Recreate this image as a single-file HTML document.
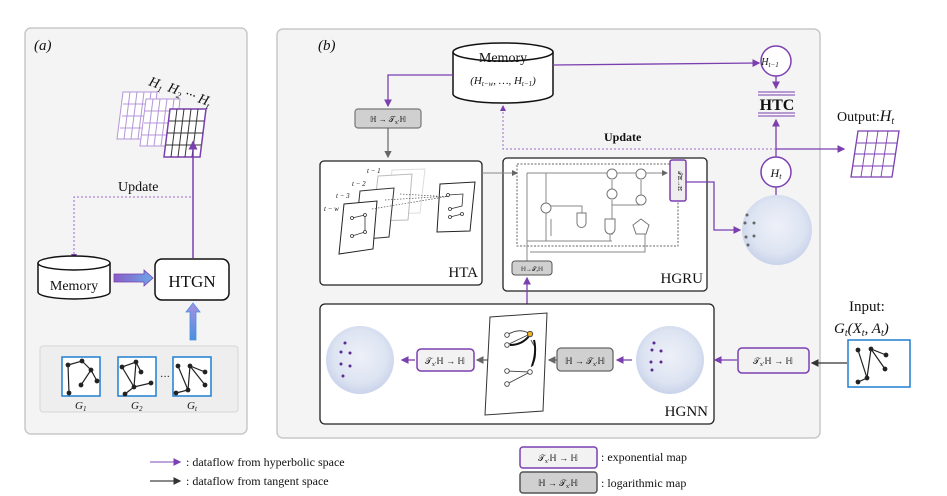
<!DOCTYPE html>
<html><head><meta charset="utf-8"><style>
html,body{margin:0;padding:0;background:#fff;width:947px;height:496px;overflow:hidden}
svg{display:block}
text{font-family:"Liberation Serif",serif;fill:#111}
.it{font-style:italic}
</style></head><body>
<svg width="947" height="496" viewBox="0 0 947 496" xmlns="http://www.w3.org/2000/svg">
<defs>
<marker id="ap" markerWidth="6" markerHeight="6" refX="5" refY="3" orient="auto"><path d="M0,0 L6,3 L0,6 z" fill="#7b3fb0"/></marker>
<marker id="ag" markerWidth="6" markerHeight="6" refX="5" refY="3" orient="auto"><path d="M0,0 L6,3 L0,6 z" fill="#666"/></marker>
<marker id="ak" markerWidth="6" markerHeight="6" refX="5" refY="3" orient="auto"><path d="M0,0 L6,3 L0,6 z" fill="#333"/></marker>
<radialGradient id="sph" cx="50%" cy="45%" r="55%"><stop offset="0" stop-color="#eef0f8"/><stop offset="0.7" stop-color="#dde4f2"/><stop offset="1" stop-color="#c9d3ea"/></radialGradient>
<linearGradient id="hg" x1="0" x2="1"><stop offset="0" stop-color="#8a5cc8"/><stop offset="1" stop-color="#6aa8e8"/></linearGradient>
<linearGradient id="vg" x1="0" y1="1" x2="0" y2="0"><stop offset="0" stop-color="#4a90e0"/><stop offset="1" stop-color="#a890e0"/></linearGradient>
<g id="grid">
<path d="M0,0 L30,0 L24,42 L-6,42 z" fill="#fff"/>
</g>
</defs>

<!-- Panel a -->
<rect x="25" y="28" width="222" height="406" rx="6" fill="#f4f4f4" stroke="#c8c8c8" stroke-width="1.5"/>
<text x="34" y="50" font-size="15" class="it">(a)</text>
<!-- grids -->
<g stroke="#b596d8" stroke-width="1" fill="#fff">
<path d="M123,92 L157,92 L152,139 L117,139 z"/>
<path d="M123,104 H155 M122,116 H154 M120,128 H153 M130,92 L124,139 M137,92 L131,139 M144,92 L138,139 M151,92 L145,139"/>
<path d="M146,99 L180,99 L175,146 L140,146 z"/>
<path d="M145,111 H178 M144,123 H177 M142,135 H176 M153,99 L147,146 M160,99 L154,146 M167,99 L161,146 M174,99 L168,146"/>
</g>
<g stroke="#333" stroke-width="1" fill="#fff">
<path d="M170,109 L206,109 L200,157 L164,157 z" stroke="#7b3fb0" stroke-width="1.5"/>
<path d="M169,121 H204 M167,133 H203 M166,145 H201 M177,109 L171,157 M184,109 L178,157 M191,109 L185,157 M198,109 L192,157"/>
</g>
<text x="148" y="85" font-size="14" class="it" transform="rotate(20 148 85)">H<tspan font-size="9" dy="3">1</tspan></text>
<text x="167" y="91" font-size="14" class="it" transform="rotate(20 167 91)">H<tspan font-size="9" dy="3">2</tspan><tspan dy="-3"> ··· H</tspan><tspan font-size="9" dy="3">t</tspan></text>
<text x="118" y="191" font-size="14">Update</text>
<path d="M191,197 H74 V259" fill="none" stroke="#9a6cc8" stroke-width="1" stroke-dasharray="2,2" marker-end="url(#ap)"/>
<line x1="193" y1="258" x2="193" y2="142" stroke="#7b3fb0" stroke-width="1.5" marker-end="url(#ap)"/>
<!-- memory a -->
<path d="M38,263 V292 A36,7 0 0 0 110,292 V263" fill="#fff" stroke="#111" stroke-width="1.5"/>
<ellipse cx="74" cy="263" rx="36" ry="7" fill="#fff" stroke="#111" stroke-width="1.5"/>
<text x="74" y="290" font-size="14" text-anchor="middle">Memory</text>
<path d="M114,274 H144 V270 L153,278 L144,286 V282 H114 z" fill="url(#hg)" stroke="#7b3fb0" stroke-width="0.8"/>
<rect x="155" y="259" width="74" height="41" rx="7" fill="#fff" stroke="#111" stroke-width="1.5"/>
<text x="192" y="287" font-size="17" text-anchor="middle">HTGN</text>
<path d="M190,340 V312 H186 L193,303 L200,312 H196 V340 z" fill="url(#vg)" stroke="#4a90e0" stroke-width="0.8"/>
<rect x="40" y="346" width="198" height="66" rx="3" fill="#eeeeee" stroke="#d6d6d6"/>
<g stroke="#1f7fd0" stroke-width="1.5" fill="#fff">
<rect x="62" y="357" width="38" height="39"/><rect x="118" y="357" width="38" height="39"/><rect x="173" y="357" width="38" height="39"/>
</g>
<g stroke="#222" stroke-width="1.2" fill="#222">
<path d="M68,365 L82,361 L91,370 L97,381 M91,370 L81,385 M68,365 L69,393" fill="none"/>
<circle cx="68" cy="365" r="1.8"/><circle cx="82" cy="361" r="1.8"/><circle cx="91" cy="370" r="1.8"/><circle cx="97" cy="381" r="1.8"/><circle cx="81" cy="385" r="1.8"/><circle cx="69" cy="393" r="1.8"/>
<path d="M122,367 L136,362 L141,372 M136,362 L134,387 L151,383 M122,367 L134,387 L125,394" fill="none"/>
<circle cx="122" cy="367" r="1.8"/><circle cx="136" cy="362" r="1.8"/><circle cx="141" cy="372" r="1.8"/><circle cx="134" cy="387" r="1.8"/><circle cx="151" cy="383" r="1.8"/><circle cx="125" cy="394" r="1.8"/>
<path d="M178,366 L188,390 L176,393 M188,390 L190,366 L205,372 M190,366 L205,385" fill="none"/>
<circle cx="178" cy="366" r="1.8"/><circle cx="188" cy="390" r="1.8"/><circle cx="176" cy="393" r="1.8"/><circle cx="190" cy="366" r="1.8"/><circle cx="205" cy="372" r="1.8"/><circle cx="205" cy="385" r="1.8"/>
</g>
<text x="160" y="380" font-size="10">···</text>
<text x="75" y="409" font-size="11" class="it">G<tspan font-size="7" dy="2">1</tspan></text>
<text x="131" y="409" font-size="11" class="it">G<tspan font-size="7" dy="2">2</tspan></text>
<text x="187" y="409" font-size="11" class="it">G<tspan font-size="7" dy="2">t</tspan></text>

<!-- Panel b -->
<rect x="277" y="29" width="543" height="409" rx="6" fill="#f4f4f4" stroke="#c8c8c8" stroke-width="1.5"/>
<text x="318" y="50" font-size="15" class="it">(b)</text>
<!-- memory b -->
<path d="M453,52 V94 A50,9 0 0 0 553,94 V52" fill="#fff" stroke="#111" stroke-width="1.5"/>
<ellipse cx="503" cy="52" rx="50" ry="9" fill="#fff" stroke="#111" stroke-width="1.5"/>
<text x="503" y="62" font-size="14" text-anchor="middle">Memory</text>
<text x="503" y="84" font-size="11" text-anchor="middle" class="it">(H<tspan font-size="7" dy="2">t−w</tspan><tspan dy="-2">, …, H</tspan><tspan font-size="7" dy="2">t−1</tspan><tspan dy="-2">)</tspan></text>
<path d="M453,75 H388 V106" fill="none" stroke="#7b3fb0" stroke-width="1.3" marker-end="url(#ap)"/>
<rect x="355" y="109" width="66" height="19" rx="3" fill="#d0d0d0" stroke="#777" stroke-width="1.2"/>
<text x="388" y="122" font-size="8" text-anchor="middle">ℍ → 𝒯<tspan font-size="6" dy="2">x′</tspan><tspan dy="-2">ℍ</tspan></text>
<line x1="388" y1="128" x2="388" y2="157" stroke="#666" stroke-width="1.2" marker-end="url(#ag)"/>
<line x1="553" y1="65" x2="759" y2="63" stroke="#7b3fb0" stroke-width="1.3" marker-end="url(#ap)"/>
<circle cx="776" cy="61" r="15" fill="#fff" stroke="#7b3fb0" stroke-width="1.5"/>
<text x="770" y="65" font-size="10" class="it" text-anchor="middle">H<tspan font-size="7" dy="2">t−1</tspan></text>
<line x1="776" y1="76" x2="776" y2="88" stroke="#7b3fb0" stroke-width="1.3" marker-end="url(#ap)"/>
<g stroke="#7b3fb0" stroke-width="1"><line x1="758" y1="92" x2="795" y2="92"/><line x1="758" y1="95" x2="795" y2="95"/><line x1="758" y1="113" x2="795" y2="113"/><line x1="758" y1="116" x2="795" y2="116"/></g>
<text x="777" y="110" font-size="16" font-weight="bold" text-anchor="middle">HTC</text>
<line x1="776" y1="157" x2="776" y2="120" stroke="#7b3fb0" stroke-width="1.3" marker-end="url(#ap)"/>
<circle cx="776" cy="172" r="15" fill="#fff" stroke="#7b3fb0" stroke-width="1.5"/>
<text x="776" y="177" font-size="12" class="it" text-anchor="middle">H<tspan font-size="8" dy="2">t</tspan></text>
<line x1="776" y1="187" x2="776" y2="197" stroke="#7b3fb0" stroke-width="1.3"/>
<path d="M776,149 H503 V106" fill="none" stroke="#9a6cc8" stroke-width="1" stroke-dasharray="2,2" marker-end="url(#ap)"/>
<line x1="776" y1="149" x2="844" y2="149" stroke="#7b3fb0" stroke-width="1.3" marker-end="url(#ap)"/>
<text x="604" y="141" font-size="12" font-weight="bold">Update</text>
<text x="837" y="121" font-size="14">Output:<tspan class="it" font-size="16">H</tspan><tspan class="it" font-size="10" dy="3">t</tspan></text>
<g stroke="#7b3fb0" stroke-width="1.3" fill="#fff">
<path d="M858,131 L899,131 L892,177 L851,177 z"/>
<path d="M857,143 H897 M855,154 H895 M853,166 H894 M868,131 L861,177 M878,131 L871,177 M888,131 L881,177" stroke-width="0.9"/>
</g>
<!-- HTA -->
<rect x="320" y="161" width="162" height="124" rx="4" fill="#fff" stroke="#222" stroke-width="1.3"/>
<g stroke="#ddd" fill="#fff"><path d="M392,170 L425,169 L420,213 L388,214 z"/><path d="M378,176 L412,174 L408,220 L373,221 z" stroke="#bbb"/></g>
<path d="M360,191 L394,188 L389,237 L355,240 z" fill="#fff" stroke="#333"/>
<path d="M344,204 L377,201 L373,249 L339,254 z" fill="#fff" stroke="#222"/>
<path d="M440,184 L475,182 L470,231 L437,232 z" fill="#fff" stroke="#222"/>
<g stroke="#555" stroke-width="0.7" stroke-dasharray="1.5,1.5"><line x1="372" y1="209" x2="450" y2="196"/><line x1="385" y1="200" x2="450" y2="196"/><line x1="400" y1="194" x2="452" y2="197"/></g>
<g stroke="#333" stroke-width="0.8" fill="#fff"><path d="M352,218 L365,215 L365,232 L352,236 M448,195 L463,194 L462,206 L450,209 M450,217 L462,214"/>
<circle cx="352" cy="218" r="1.5"/><circle cx="352" cy="236" r="1.5"/><circle cx="365" cy="215" r="1.5"/><circle cx="365" cy="232" r="1.5"/><circle cx="448" cy="195" r="1.5"/><circle cx="450" cy="209" r="1.5"/><circle cx="450" cy="217" r="1.5"/><circle cx="462" cy="214" r="1.5"/></g>
<g font-size="7" class="it"><text x="367" y="173">t − 1</text><text x="352" y="186">t − 2</text><text x="336" y="198">t − 3</text><text x="324" y="211">t − w</text></g>
<text x="478" y="277" font-size="15" text-anchor="end">HTA</text>
<!-- HGRU -->
<rect x="503" y="158" width="204" height="133" rx="4" fill="#fff" stroke="#222" stroke-width="1.3"/>
<rect x="517" y="164" width="161" height="82" fill="none" stroke="#666" stroke-dasharray="2,1.5"/>
<g stroke="#888" stroke-width="1" fill="none">
<line x1="482" y1="173" x2="517" y2="173" marker-end="url(#ag)"/>
<line x1="527" y1="173" x2="667" y2="173" marker-end="url(#ag)"/>
<path d="M527,173 V241 M527,241 H612 M546,173 V241 M551,219 V236 M610,219 V241 M612,235 V200 M612,205 H640 M641,186 V203 M550,206 H582 V214 M530,252 H645 V230 M527,262 V231"/>
<path d="M612,180 V197 M641,180 V197"/>
</g>
<g stroke="#777" fill="#fff" stroke-width="1">
<circle cx="546" cy="208" r="5"/><circle cx="612" cy="174" r="5"/><circle cx="641" cy="174" r="5"/><circle cx="612" cy="194" r="5"/><circle cx="641" cy="200" r="5"/>
<path d="M577,213 h9 v10 a4,4 0 0 1 -9,0 z"/><path d="M605,219 h10 v10 a5,5 0 0 1 -10,0 z"/>
<path d="M641,219 L649,225 L646,234 L636,234 L633,225 z"/>
</g>
<rect x="670" y="160" width="16" height="41" rx="2" fill="#eee" stroke="#7b3fb0" stroke-width="1.5"/>
<text x="678" y="181" font-size="6" text-anchor="middle" transform="rotate(90 678 181)">𝒯ℍ→ℍ</text>
<rect x="512" y="261" width="40" height="14" rx="3" fill="#d0d0d0" stroke="#555"/>
<text x="532" y="271" font-size="6" text-anchor="middle">ℍ→𝒯ₓℍ</text>
<text x="703" y="283" font-size="15" text-anchor="end">HGRU</text>
<path d="M686,182 H714 V230 H740" fill="none" stroke="#7b3fb0" stroke-width="1.3" marker-end="url(#ap)"/>
<circle cx="777" cy="230" r="35" fill="url(#sph)"/>
<g fill="#666"><circle cx="747" cy="215" r="1.5"/><circle cx="745" cy="223" r="1.5"/><circle cx="754" cy="223" r="1.5"/><circle cx="746" cy="237" r="1.5"/><circle cx="754" cy="236" r="1.5"/><circle cx="748" cy="245" r="1.5"/></g>
<line x1="527" y1="304" x2="527" y2="278" stroke="#7b3fb0" stroke-width="1.3" marker-end="url(#ap)"/>
<!-- HGNN -->
<rect x="320" y="304" width="394" height="120" rx="5" fill="#fff" stroke="#222" stroke-width="1.3"/>
<circle cx="360" cy="360" r="34" fill="url(#sph)"/>
<g fill="#5a2a90"><circle cx="345" cy="343" r="1.5"/><circle cx="341" cy="352" r="1.5"/><circle cx="350" cy="353" r="1.5"/><circle cx="341" cy="364" r="1.5"/><circle cx="350" cy="366" r="1.5"/><circle cx="343" cy="376" r="1.5"/></g>
<line x1="415" y1="360" x2="402" y2="360" stroke="#7b3fb0" stroke-width="1.3" marker-end="url(#ap)"/>
<rect x="417" y="349" width="57" height="22" rx="4" fill="#f2f2f2" stroke="#7b3fb0" stroke-width="1.5"/>
<text x="445" y="364" font-size="9" text-anchor="middle">𝒯<tspan font-size="6" dy="2">x′</tspan><tspan dy="-2">ℍ → ℍ</tspan></text>
<line x1="488" y1="360" x2="477" y2="360" stroke="#666" stroke-width="1.3" marker-end="url(#ag)"/>
<path d="M490,317 L547,313 L543,411 L485,415 z" fill="#fff" stroke="#333"/>
<g stroke="#444" stroke-width="0.9" fill="#fff">
<path d="M507,335 Q520,327 530,334 M507,345 L530,334 M507,371 L530,372 L507,384 M531,340 Q540,355 531,367"/>
<path d="M510,345 Q522,345 529,336" stroke="#111" stroke-width="2"/>
<path d="M534,340 Q537,352 532,366" stroke="#111" stroke-width="2"/>
<circle cx="507" cy="335" r="2.3"/><circle cx="507" cy="345" r="2.3"/><circle cx="507" cy="371" r="2.3"/><circle cx="507" cy="384" r="2.3"/><circle cx="530" cy="372" r="2.3"/>
<circle cx="530" cy="334" r="2.7" fill="#f0b020"/>
</g>
<line x1="557" y1="360" x2="549" y2="360" stroke="#666" stroke-width="1.3" marker-end="url(#ag)"/>
<rect x="557" y="348" width="56" height="23" rx="4" fill="#d0d0d0" stroke="#666" stroke-width="1.3"/>
<text x="585" y="364" font-size="9" text-anchor="middle">ℍ → 𝒯<tspan font-size="6" dy="2">x′</tspan><tspan dy="-2">ℍ</tspan></text>
<line x1="632" y1="360" x2="617" y2="360" stroke="#7b3fb0" stroke-width="1.3" marker-end="url(#ap)"/>
<circle cx="670" cy="360" r="34" fill="url(#sph)"/>
<g fill="#5a2a90"><circle cx="654" cy="343" r="1.5"/><circle cx="652" cy="350" r="1.5"/><circle cx="661" cy="351" r="1.5"/><circle cx="651" cy="362" r="1.5"/><circle cx="661" cy="362" r="1.5"/><circle cx="652" cy="370" r="1.5"/></g>
<text x="708" y="416" font-size="15" text-anchor="end">HGNN</text>
<line x1="737" y1="360" x2="715" y2="360" stroke="#7b3fb0" stroke-width="1.3" marker-end="url(#ap)"/>
<rect x="738" y="348" width="71" height="25" rx="4" fill="#f2f2f2" stroke="#7b3fb0" stroke-width="1.5"/>
<text x="773" y="364" font-size="9" text-anchor="middle">𝒯<tspan font-size="6" dy="2">x′</tspan><tspan dy="-2">ℍ → ℍ</tspan></text>
<line x1="847" y1="363" x2="812" y2="363" stroke="#333" stroke-width="1.3" marker-end="url(#ak)"/>
<text x="849" y="311" font-size="15">Input:</text>
<text x="834" y="333" font-size="15" class="it">G<tspan font-size="10" dy="3">t</tspan><tspan dy="-3">(X</tspan><tspan font-size="10" dy="3">t</tspan><tspan dy="-3">, A</tspan><tspan font-size="10" dy="3">t</tspan><tspan dy="-3">)</tspan></text>
<rect x="848" y="340" width="62" height="47" fill="#fff" stroke="#1f7fd0" stroke-width="1.5"/>
<g stroke="#222" stroke-width="1.2" fill="#222"><path d="M858,350 L867,378 L858,382 M867,378 L871,349 L886,355 M871,349 L885,369" fill="none"/>
<circle cx="858" cy="350" r="1.8"/><circle cx="867" cy="378" r="1.8"/><circle cx="858" cy="382" r="1.8"/><circle cx="871" cy="349" r="1.8"/><circle cx="886" cy="355" r="1.8"/><circle cx="885" cy="369" r="1.8"/></g>
<!-- legend -->
<line x1="150" y1="462" x2="180" y2="462" stroke="#9a6cc8" stroke-width="1.3" marker-end="url(#ap)"/>
<text x="186" y="466" font-size="12">:  dataflow from hyperbolic space</text>
<line x1="150" y1="481" x2="180" y2="481" stroke="#444" stroke-width="1.3" marker-end="url(#ak)"/>
<text x="186" y="485" font-size="12">:  dataflow from tangent space</text>
<rect x="520" y="447" width="77" height="21" rx="3" fill="#f2f2f2" stroke="#7b3fb0" stroke-width="1.5"/>
<text x="558" y="461" font-size="9" text-anchor="middle">𝒯<tspan font-size="6" dy="2">x′</tspan><tspan dy="-2">ℍ → ℍ</tspan></text>
<text x="601" y="461" font-size="12">:  exponential map</text>
<rect x="520" y="472" width="77" height="21" rx="3" fill="#d0d0d0" stroke="#555" stroke-width="1.5"/>
<text x="558" y="486" font-size="9" text-anchor="middle">ℍ → 𝒯<tspan font-size="6" dy="2">x′</tspan><tspan dy="-2">ℍ</tspan></text>
<text x="601" y="487" font-size="12">:  logarithmic map</text>
</svg>
</body></html>
